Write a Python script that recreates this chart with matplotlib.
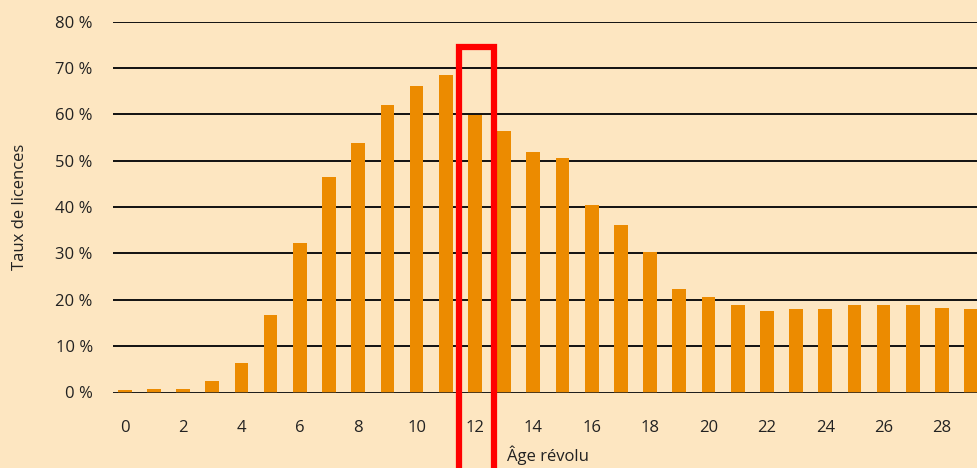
import matplotlib
matplotlib.use("Agg")
import matplotlib.pyplot as plt
from matplotlib.patches import Rectangle

ages = list(range(30))
taux = [0.5, 0.8, 0.8, 2.5, 6.3, 16.8, 32.3, 46.4, 53.7, 62.0,
        66.0, 68.4, 59.8, 56.4, 51.9, 50.6, 40.5, 36.1, 30.2, 22.4,
        20.6, 18.9, 17.6, 18.0, 17.9, 18.9, 18.9, 18.9, 18.2, 18.0]
yticks = [0, 10, 20, 30, 40, 50, 60, 70, 80]
ytick_labels = ["0 %", "10 %", "20 %", "30 %", "40 %", "50 %", "60 %", "70 %", "80 %"]
xticks = list(range(0, 29, 2))
highlight_age = 12

bg = "#FDE6C1"
plt.rcParams['font.family'] = ['Open Sans', 'DejaVu Sans']
fs = 12

fig = plt.figure(figsize=(9.77, 4.68), dpi=100, facecolor=bg)
ax = fig.add_axes([113/977, 1-392.5/468, 1-113/977, (392.5-21.5)/468])
ax.set_facecolor(bg)

ax.bar(ages, taux, width=0.47, color="#EC8B00", zorder=3)

ax.set_ylim(0, 80)
ax.set_xlim(-0.4, 29.2)
ax.set_yticks(yticks)
ax.set_yticklabels(ytick_labels, fontsize=fs, color="#222222")
ax.set_xticks(xticks)
ax.set_xticklabels([str(t) for t in xticks], fontsize=fs, color="#222222")
ax.tick_params(axis='both', length=0)
ax.tick_params(axis='y', pad=14.5)
ax.tick_params(axis='x', pad=20)
ax.grid(axis='y', color="#111111", linewidth=1.4, zorder=1)
for s in ax.spines.values():
    s.set_visible(False)
ax.axhline(0, color="#222222", linewidth=1.8, zorder=4)

ax.set_ylabel("Taux de licences", fontsize=fs, color="#222222")
ax.set_xlabel("Âge révolu", fontsize=fs, color="#222222")
ax.xaxis.set_label_coords(0.503, -0.142)
ax.yaxis.set_label_coords(-0.098, 0.5)

rect = Rectangle((highlight_age - 0.53, -25), 1.17, 99.5, fill=False,
                 edgecolor="#FF0000", linewidth=4.5, clip_on=False, zorder=5)
ax.add_patch(rect)

fig.savefig("out.png", dpi=100, facecolor=bg)
